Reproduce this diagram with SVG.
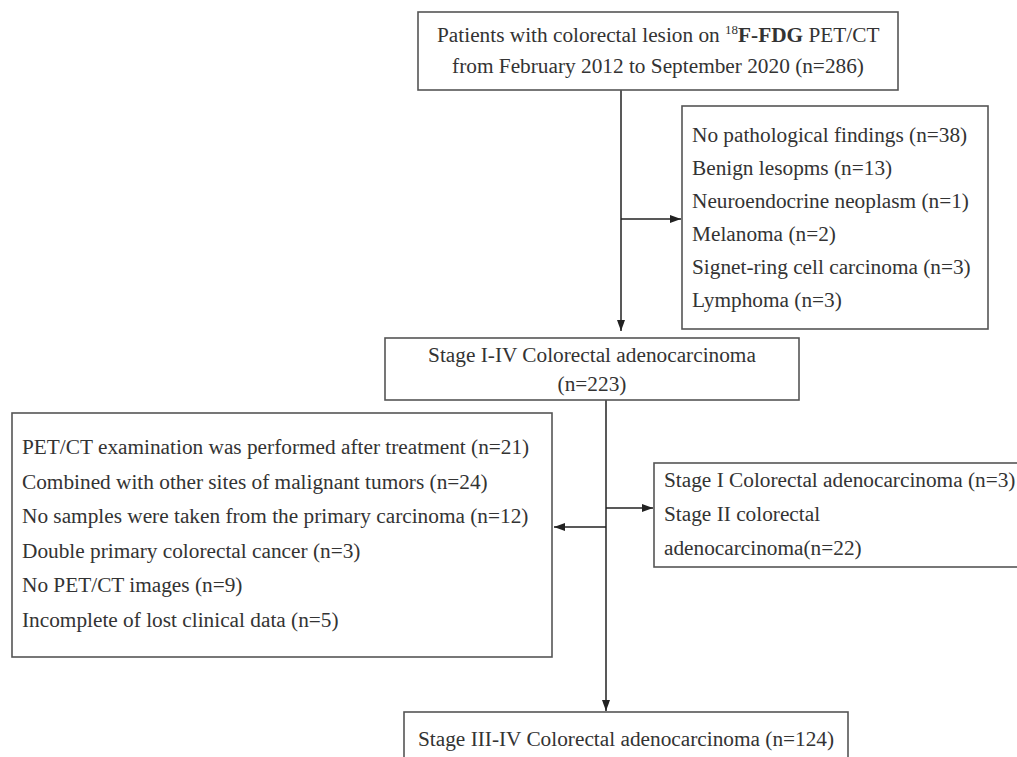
<svg xmlns="http://www.w3.org/2000/svg" width="1017" height="757" viewBox="0 0 1017 757">
<style>
.box{fill:#fff;stroke:#555;stroke-width:1.6}
.t{font-family:"Liberation Serif","Times New Roman",serif;font-size:21.3px;fill:#333}
.c{fill:none;stroke:#222;stroke-width:1.5}
</style>
<defs>
<marker id="ah" markerUnits="userSpaceOnUse" markerWidth="12" markerHeight="10" refX="11" refY="5" orient="auto">
<path d="M0,1 L11,5 L0,9 Z" fill="#222"/>
</marker>
</defs>
<rect width="1017" height="757" fill="#fff"/>
<g id="connectors">
<line class="c" x1="621" y1="90" x2="621" y2="331" marker-end="url(#ah)"/>
<line class="c" x1="621" y1="219" x2="681" y2="219" marker-end="url(#ah)"/>
<line class="c" x1="606" y1="400" x2="606" y2="711" marker-end="url(#ah)"/>
<line class="c" x1="606" y1="508" x2="653" y2="508" marker-end="url(#ah)"/>
<line class="c" x1="606" y1="527" x2="554" y2="527" marker-end="url(#ah)"/>
</g>
<g id="node-top">
<rect class="box" x="418" y="12" width="480" height="78"/>
<text class="t" x="437" y="42">Patients with colorectal lesion on <tspan font-size="13" dy="-8">18</tspan><tspan dy="8" font-weight="bold">F-FDG</tspan> PET/CT</text>
<text class="t" x="658" y="73" text-anchor="middle">from February 2012 to September 2020 (n=286)</text>
</g>
<g id="node-excl1">
<rect class="box" x="682" y="106" width="306" height="223"/>
<text class="t" x="692" y="142">No pathological findings (n=38)</text>
<text class="t" x="692" y="175">Benign lesopms (n=13)</text>
<text class="t" x="692" y="208">Neuroendocrine neoplasm (n=1)</text>
<text class="t" x="692" y="241">Melanoma (n=2)</text>
<text class="t" x="692" y="274">Signet-ring cell carcinoma (n=3)</text>
<text class="t" x="692" y="307">Lymphoma (n=3)</text>
</g>
<g id="node-stage14">
<rect class="box" x="385" y="338" width="414" height="62"/>
<text class="t" x="592" y="362" text-anchor="middle">Stage I-IV Colorectal adenocarcinoma</text>
<text class="t" x="592" y="391" text-anchor="middle">(n=223)</text>
</g>
<g id="node-excl2">
<rect class="box" x="12" y="413" width="540" height="244"/>
<text class="t" x="22" y="454">PET/CT examination was performed after treatment (n=21)</text>
<text class="t" x="22" y="488.5">Combined with other sites of malignant tumors (n=24)</text>
<text class="t" x="22" y="523">No samples were taken from the primary carcinoma (n=12)</text>
<text class="t" x="22" y="557.5">Double primary colorectal cancer (n=3)</text>
<text class="t" x="22" y="592">No PET/CT images (n=9)</text>
<text class="t" x="22" y="626.5">Incomplete of lost clinical data (n=5)</text>
</g>
<g id="node-stage12">
<rect class="box" x="654" y="463" width="380" height="104"/>
<text class="t" x="664" y="487">Stage I Colorectal adenocarcinoma (n=3)</text>
<text class="t" x="664" y="521">Stage II colorectal</text>
<text class="t" x="664" y="555">adenocarcinoma(n=22)</text>
</g>
<g id="node-stage34">
<rect class="box" x="404" y="712" width="444" height="60"/>
<text class="t" x="418" y="746">Stage III-IV Colorectal adenocarcinoma (n=124)</text>
</g>
</svg>
